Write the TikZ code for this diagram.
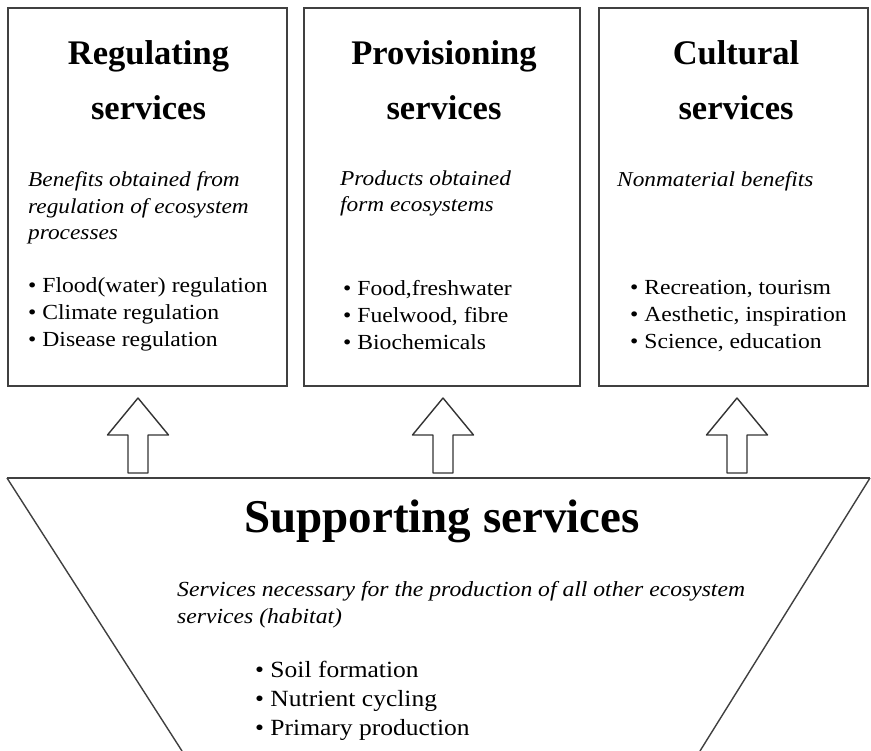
\documentclass[tikz,border=0pt]{standalone}
\usepackage{fontspec}
\setmainfont{Liberation Serif}
\newfontfamily\bodyfont[FakeStretch=1.1]{Liberation Serif}
\begin{document}
\begin{tikzpicture}[x=1pt,y=-1pt,
  frame/.style={draw=black!75,line width=1.8pt},
  side/.style={draw=black!75,line width=1.4pt},
  ttl/.style={font=\fontsize{34.5}{55}\selectfont\bfseries,align=center,anchor=base},
  desc/.style={font=\bodyfont\fontsize{21.2}{26.5}\selectfont\itshape,align=left,anchor=base west,inner sep=0pt},
  items/.style={font=\bodyfont\fontsize{21.5}{27}\selectfont,align=left,anchor=base west,inner sep=0pt},
  uparrow/.pic={\draw[draw=black!80,line width=1.4pt,line join=round]
    (-10,0) -- (-10,-38) -- (-30.5,-38) -- (0,-75) -- (30.5,-38) -- (10,-38) -- (10,0) -- cycle;}]
\useasboundingbox (0,0) rectangle (871,751);
\fill[white] (0,0) rectangle (871,751);

\node[frame,minimum width=279pt,minimum height=378pt] (reg) at (147.5,197) {};
\node[frame,minimum width=276pt,minimum height=378pt] (prov) at (442,197) {};
\node[frame,minimum width=269pt,minimum height=378pt] (cult) at (733.5,197) {};

\node[ttl] (regT) at (148.5,120) {Regulating\\services};
\node[desc] (regD) at (28,240) {Benefits obtained from\\regulation of ecosystem\\processes};
\node[items] (regL) at (28,347) {• Flood(water) regulation\\• Climate regulation\\• Disease regulation};

\node[ttl] (provT) at (444,120) {Provisioning\\services};
\node[desc] (provD) at (340,212) {Products obtained\\form ecosystems};
\node[items] (provL) at (343,350) {• Food,freshwater\\• Fuelwood, fibre\\• Biochemicals};

\node[ttl] (cultT) at (736,120) {Cultural\\services};
\node[desc] (cultD) at (617,187) {Nonmaterial benefits};
\node[items] (cultL) at (630,349) {• Recreation, tourism\\• Aesthetic, inspiration\\• Science, education};

\coordinate (tl) at (7,478);
\coordinate (tr) at (870,478);
\coordinate (bl) at (182,751);
\coordinate (br) at (700,751);
\draw[frame] (tl) -- (tr);
\draw[side] (tl) -- (bl);
\draw[side] (tr) -- (br);

\coordinate (a1) at (138,473);
\coordinate (a2) at (443,473);
\coordinate (a3) at (737,473);
\pic at (a1) {uparrow};
\pic at (a2) {uparrow};
\pic at (a3) {uparrow};

\node[font=\fontsize{47}{50}\selectfont\bfseries,anchor=base] (supT) at (442,532) {Supporting services};
\node[desc,font=\bodyfont\fontsize{21.5}{27}\selectfont\itshape] (supD) at (177,623) {Services necessary for the production of all other ecosystem\\services (habitat)};
\node[items,font=\bodyfont\fontsize{23.2}{29}\selectfont] (supL) at (255,735) {• Soil formation\\• Nutrient cycling\\• Primary production};
\end{tikzpicture}
\end{document}
